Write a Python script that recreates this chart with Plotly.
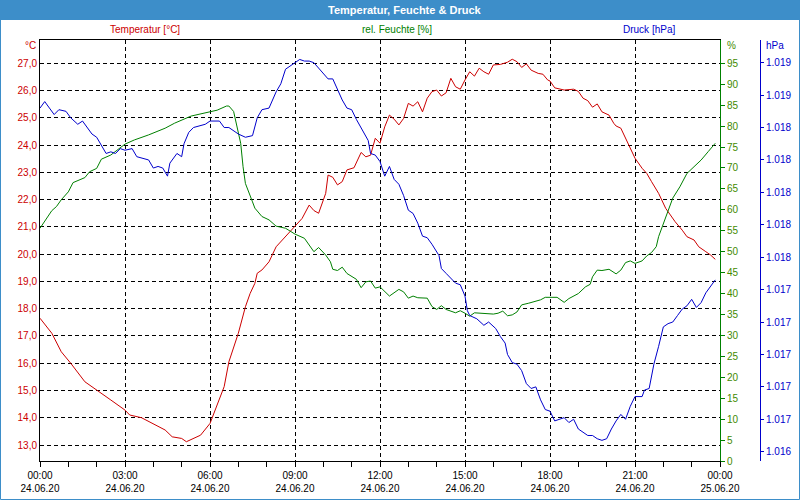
import plotly.graph_objects as go
import numpy as np

DAY = "2020-06-24"

temp_times = ["00:00","00:25","00:45","01:05","01:35","02:00","02:30","03:00","03:10","03:35","04:00",
              "04:25","04:40","05:00","05:10","05:25","05:40","06:00","06:10","06:30","06:40","07:00",
              "07:15","07:25","07:35","07:40","07:50","08:05","08:20","08:30","09:00","09:15","09:30",
              "09:40","09:50","10:05","10:10","10:20","10:30","10:40","10:50","11:05","11:20","11:30",
              "11:40","11:50","12:00","12:10","12:20","12:30","12:40","12:50","13:00","13:10","13:20",
              "13:30","13:40","13:50","14:00","14:10","14:20","14:30","14:40","14:50","15:00","15:10",
              "15:20","15:30","15:40","15:50","16:00","16:15","16:30","16:40","16:50","17:00","17:10",
              "17:20","17:35","17:45","17:55","18:00","18:10","18:30","18:50","19:00","19:10","19:20",
              "19:30","19:40","19:50","20:05","20:15","20:20","20:30","20:45","21:00","21:15","21:25",
              "21:35","21:50","22:05","22:15","22:25","22:40","22:50","23:05","23:15","23:30","23:40",
              "23:50"]
temp_vals = [17.65,17.1,16.42,16.0,15.32,15.0,14.65,14.28,14.1,14.0,13.79,
             13.55,13.3,13.24,13.12,13.24,13.36,13.79,14.22,15.14,16.05,17.1,
             18.07,18.56,18.93,19.3,19.42,19.72,20.27,20.46,21.0,21.31,21.8,
             21.6,21.5,22.23,22.9,22.82,22.54,22.66,23.09,23.17,23.73,23.57,
             23.63,24.25,24.07,24.67,25.1,24.95,24.74,24.98,25.53,25.43,25.59,
             25.22,25.72,25.96,26.02,25.8,25.92,26.45,26.14,26.05,26.39,26.69,
             26.53,26.82,26.69,26.6,26.94,26.96,27.04,27.15,27.06,26.85,26.98,
             26.75,26.63,26.6,26.39,26.35,26.1,26.02,26.05,25.97,25.72,25.63,
             25.39,25.51,25.22,25.1,24.8,24.7,24.62,24.07,23.52,23.15,22.96,
             22.66,22.23,21.68,21.44,21.19,20.88,20.64,20.52,20.27,20.09,19.97,
             19.81]

hum_times = ["00:00","00:10","00:25","00:35","00:45","01:00","01:10","01:35","01:45","02:00","02:10",
             "02:30","02:45","03:00","03:20","03:50","04:25","04:45","05:20","05:50","06:00","06:15",
             "06:35","06:40","06:50","06:55","07:05","07:10","07:15","07:30","07:35","07:50","08:05",
             "08:20","08:40","09:00","09:20","09:30","09:40","09:50","10:05","10:15","10:20","10:30",
             "10:40","10:50","11:05","11:10","11:20","11:30","11:40","11:50","12:00","12:10","12:20",
             "12:40","12:50","13:00","13:10","13:20","13:40","13:50","14:00","14:10","14:20","14:40",
             "14:50","15:00","15:10","15:20","15:40","16:00","16:10","16:20","16:30","16:40","16:50",
             "17:00","17:15","17:30","17:40","17:50","18:00","18:15","18:30","18:40","19:00","19:15",
             "19:25","19:30","19:40","19:50","20:05","20:15","20:20","20:30","20:40","20:50","21:00",
             "21:15","21:25","21:35","21:45","21:50","22:00","22:10","22:20","22:35","22:50","23:05",
             "23:20","23:35","23:50"]
hum_vals = [55.6,57.2,59.8,60.8,62.4,64.3,66.5,67.7,69.1,69.9,72.1,
            73.1,74.3,75.7,76.7,77.9,79.5,80.7,82.4,83.1,83.5,83.8,
            84.8,84.8,83.5,80.7,75.9,70.3,66.3,61.9,60.4,58.4,57.6,
            56.1,55.6,54.2,53.2,51.6,50.0,51.0,49.2,47.6,45.8,45.5,
            46.3,44.8,43.8,43.4,41.4,42.8,43.0,41.3,41.6,40.4,39.4,
            41.0,40.4,38.9,39.4,39.0,38.9,36.9,36.2,37.1,36.2,35.4,
            35.9,35.3,34.6,35.4,35.3,35.1,35.3,35.8,34.7,34.9,35.6,
            37.3,37.7,38.1,38.5,39.1,39.1,39.1,37.9,38.8,40.0,41.6,
            42.2,44.0,45.6,45.5,45.8,45.2,44.7,45.6,47.4,47.8,47.2,
            47.8,49.0,49.8,51.2,53.6,56.8,60.0,62.8,65.5,68.7,70.3,
            71.9,73.9,75.9]

pres_times = ["00:00","00:10","00:20","00:30","00:40","00:55","01:05","01:20","01:30","01:40","01:50",
              "02:00","02:10","02:20","02:30","02:40","02:50","03:00","03:15","03:25","03:50","04:00",
              "04:10","04:20","04:30","04:35","04:50","05:00","05:05","05:15","05:25","05:40","05:50",
              "06:00","06:20","06:30","06:40","07:00","07:15","07:30","07:40","07:50","08:05","08:20",
              "08:30","08:40","08:50","09:00","09:10","09:20","09:30","09:40","09:55","10:10","10:20",
              "10:30","10:40","10:50","11:00","11:10","11:20","11:35","11:40","11:50","12:00","12:10",
              "12:20","12:30","12:40","12:50","13:00","13:10","13:20","13:30","13:40","13:50","14:05",
              "14:10","14:20","14:30","14:40","14:50","15:00","15:05","15:10","15:25","15:40","15:50",
              "16:05","16:15","16:25","16:30","16:40","16:50","17:00","17:10","17:20","17:30","17:40",
              "17:50","18:00","18:10","18:30","18:40","18:50","19:00","19:10","19:20","19:30","19:40",
              "19:50","20:00","20:10","20:20","20:30","20:40","20:50","21:00","21:15","21:20","21:30",
              "21:40","21:50","22:00","22:10","22:20","22:30","22:40","22:50","23:00","23:10","23:20",
              "23:30","23:40","23:50"]
pres_vals = [1018.52,1018.56,1018.52,1018.48,1018.51,1018.50,1018.46,1018.42,1018.44,1018.40,1018.36,
             1018.34,1018.29,1018.24,1018.25,1018.24,1018.27,1018.26,1018.27,1018.22,1018.20,1018.15,
             1018.16,1018.15,1018.10,1018.18,1018.24,1018.22,1018.30,1018.37,1018.40,1018.41,1018.42,
             1018.44,1018.44,1018.40,1018.40,1018.36,1018.34,1018.35,1018.46,1018.51,1018.52,1018.62,
             1018.67,1018.76,1018.78,1018.80,1018.82,1018.81,1018.81,1018.80,1018.75,1018.70,1018.70,
             1018.63,1018.57,1018.52,1018.51,1018.45,1018.40,1018.32,1018.24,1018.23,1018.19,1018.10,
             1018.16,1018.08,1018.05,1017.98,1017.89,1017.87,1017.81,1017.73,1017.72,1017.68,1017.61,
             1017.53,1017.50,1017.47,1017.44,1017.43,1017.36,1017.27,1017.24,1017.22,1017.18,1017.20,
             1017.16,1017.11,1017.07,1017.00,1016.95,1016.94,1016.90,1016.82,1016.79,1016.80,1016.72,
             1016.66,1016.65,1016.59,1016.61,1016.58,1016.60,1016.54,1016.52,1016.50,1016.50,1016.48,
             1016.47,1016.48,1016.54,1016.59,1016.63,1016.60,1016.68,1016.74,1016.74,1016.78,1016.79,
             1016.94,1017.05,1017.17,1017.19,1017.20,1017.24,1017.28,1017.30,1017.34,1017.29,1017.32,
             1017.38,1017.42,1017.46]

temp_ticks = list(range(13, 28))
hum_ticks = list(range(0, 100, 5))
pres_ticks = [round(v, 1) for v in np.arange(1016.4, 1018.81, 0.2)]

RED = "#cc0000"
GREEN = "#008000"
BLUE = "#0000cc"
OLIVE = "#3f8a00"
BAR = "#3d8ec9"
FONT = "Liberation Sans"

# pixel layout helpers
L, R, T, B = 40, 40, 40, 39
PW, PH = 800 - L - R, 500 - T - B
def px(x):
    return (x - L) / PW
def py(y):
    return (500 - B - y) / PH

def ts(t):
    return [f"{DAY} {v}" for v in t]

fig = go.Figure()
fig.add_trace(go.Scatter(x=ts(temp_times), y=temp_vals, mode="lines",
                         line=dict(color=RED, width=1), yaxis="y", name="Temperatur"))
fig.add_trace(go.Scatter(x=ts(hum_times), y=hum_vals, mode="lines",
                         line=dict(color=GREEN, width=1), yaxis="y2", name="rel. Feuchte"))
fig.add_trace(go.Scatter(x=ts(pres_times), y=pres_vals, mode="lines",
                         line=dict(color=BLUE, width=1), yaxis="y3", name="Druck"))

dash = "4px,3px"
fig.update_layout(
    width=800, height=500,
    margin=dict(l=L, r=R, t=T, b=B, autoexpand=False),
    paper_bgcolor="white", plot_bgcolor="white",
    separators=",.",
    showlegend=False,
    font=dict(family=FONT, size=10, color="black"),
    xaxis=dict(
        domain=[0, 680 / PW],
        type="date", automargin=False,
        range=["2020-06-24 00:00", "2020-06-25 00:00"],
        tick0="2020-06-24 00:00", dtick=3 * 3600000,
        tickformat="%H:%M<br>%d.%m.%y",
        ticks="outside", ticklen=5, tickcolor="black",
        minor=dict(dtick=3600000, ticks="outside", ticklen=5, tickcolor="black", showgrid=False),
        showgrid=True, gridcolor="black", gridwidth=1, griddash=dash,
        showline=True, linecolor="black", linewidth=1, mirror=True,
        zeroline=False, tickfont=dict(size=10, color="black"),
    ),
    yaxis=dict(
        range=[12.413, 27.855], automargin=False,
        tickvals=temp_ticks, tickformat=".1f",
        ticks="", showline=True, linecolor="black", linewidth=1,
        showgrid=True, gridcolor="black", gridwidth=1, griddash=dash,
        zeroline=False, tickfont=dict(size=10, color=RED),
    ),
    yaxis2=dict(
        overlaying="y", side="right", anchor="x", automargin=False,
        range=[0, 100.57],
        tickvals=hum_ticks,
        ticks="outside", ticklen=4, tickcolor=GREEN,
        showline=True, linecolor=GREEN, linewidth=1,
        showgrid=False, zeroline=False,
        tickfont=dict(size=10, color=OLIVE),
    ),
    yaxis3=dict(
        overlaying="y", side="right", anchor="free", position=1.0, automargin=False,
        range=[1016.3426, 1018.94],
        tickvals=pres_ticks, tickformat=",.0f",
        ticks="outside", ticklen=3, tickcolor=BLUE,
        showline=True, linecolor=BLUE, linewidth=1,
        showgrid=False, zeroline=False,
        tickfont=dict(size=10, color=BLUE),
    ),
)

# title bar and frame
fig.add_shape(type="rect", xref="paper", yref="paper",
              x0=px(0), x1=px(800), y0=py(20), y1=py(0),
              fillcolor=BAR, line=dict(width=0), layer="above")
fig.add_shape(type="rect", xref="paper", yref="paper",
              x0=px(0.5), x1=px(799.5), y0=py(499.5), y1=py(0.5),
              line=dict(color=BAR, width=1), fillcolor="rgba(0,0,0,0)", layer="above")

fig.add_annotation(text="<b>Temperatur, Feuchte & Druck</b>", xref="paper", yref="paper",
                   x=px(404), y=py(10), xanchor="center", yanchor="middle", showarrow=False,
                   font=dict(family=FONT, size=11, color="white"))

headers = [("Temperatur [°C]", 145, RED), ("rel. Feuchte [%]", 397, GREEN), ("Druck [hPa]", 649, BLUE)]
for txt, x, c in headers:
    fig.add_annotation(text=txt, xref="paper", yref="paper", x=px(x), y=py(30),
                       xanchor="center", yanchor="middle", showarrow=False,
                       font=dict(family=FONT, size=10, color=c))

units = [("°C", 38, "right", RED), ("%", 725, "left", OLIVE), ("hPa", 764, "left", BLUE)]
for txt, x, anc, c in units:
    fig.add_annotation(text=txt, xref="paper", yref="paper", x=px(x), y=py(45),
                       xanchor=anc, yanchor="middle", showarrow=False,
                       font=dict(family=FONT, size=10, color=c))

fig.write_html("out.html")
